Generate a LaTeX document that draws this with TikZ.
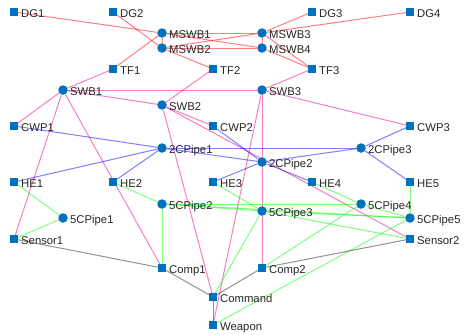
\documentclass[tikz,border=0pt]{standalone}
\usepackage{fontspec}
\setmainfont{Liberation Sans}
\usetikzlibrary{backgrounds}
\definecolor{mblue}{RGB}{0,114,189}
\definecolor{ltxt}{RGB}{38,38,38}
\tikzset{
  lab/.style={anchor=base west, xshift=7bp, yshift=-5.2bp, text=ltxt, inner sep=0pt,
    font=\fontsize{11.3bp}{13bp}\selectfont},
  sq/.style={rectangle, fill=mblue, minimum size=7.5bp, inner sep=0pt},
  ci/.style={circle, fill=mblue, minimum size=9.5bp, inner sep=0pt},
  edge/.style={line width=1bp, opacity=0.5},
  ered/.style={edge, draw=red},
  emag/.style={edge, draw=magenta},
  eblu/.style={edge, draw=blue},
  egrn/.style={edge, draw=green},
  egry/.style={edge, draw={rgb,1:red,0.15;green,0.15;blue,0.15}},
}
\newcommand{\mknode}[4]{\node[#1] (#2) at (#3) {};\node[lab] (#2-l) at (#2.center) {#4};}
\begin{document}
\begin{tikzpicture}[x=1bp,y=-1bp]
\useasboundingbox (0,0) rectangle (476,334);
% nodes
\mknode{sq}{dg1}{14,12}{DG1}
\mknode{sq}{dg2}{113,12}{DG2}
\mknode{sq}{dg3}{312,12}{DG3}
\mknode{sq}{dg4}{410,12}{DG4}
\mknode{ci}{mswb1}{162,33}{MSWB1}
\mknode{ci}{mswb2}{162,48}{MSWB2}
\mknode{ci}{mswb3}{262,33}{MSWB3}
\mknode{ci}{mswb4}{262,48}{MSWB4}
\mknode{sq}{tf1}{113,69}{TF1}
\mknode{sq}{tf2}{213,69}{TF2}
\mknode{sq}{tf3}{312,69}{TF3}
\mknode{ci}{swb1}{63,90}{SWB1}
\mknode{ci}{swb2}{162,105}{SWB2}
\mknode{ci}{swb3}{262,90}{SWB3}
\mknode{sq}{cwp1}{14,126}{CWP1}
\mknode{sq}{cwp2}{213,126}{CWP2}
\mknode{sq}{cwp3}{410,126}{CWP3}
\mknode{ci}{pa1}{162,148}{2CPipe1}
\mknode{ci}{pa2}{262,162}{2CPipe2}
\mknode{ci}{pa3}{361,148}{2CPipe3}
\mknode{sq}{he1}{14,182}{HE1}
\mknode{sq}{he2}{113,182}{HE2}
\mknode{sq}{he3}{213,182}{HE3}
\mknode{sq}{he4}{312,182}{HE4}
\mknode{sq}{he5}{410,182}{HE5}
\mknode{ci}{pb1}{63,218}{5CPipe1}
\mknode{ci}{pb2}{162,204}{5CPipe2}
\mknode{ci}{pb3}{262,211}{5CPipe3}
\mknode{ci}{pb4}{361,204}{5CPipe4}
\mknode{ci}{pb5}{410,218}{5CPipe5}
\mknode{sq}{sen1}{14,239}{Sensor1}
\mknode{sq}{sen2}{410,239}{Sensor2}
\mknode{sq}{comp1}{162,268}{Comp1}
\mknode{sq}{comp2}{262,268}{Comp2}
\mknode{sq}{cmd}{213,297}{Command}
\mknode{sq}{wpn}{213,325}{Weapon}
\begin{scope}[on background layer]
% red
\draw[ered] (dg1) -- (mswb1);
\draw[ered] (dg2) -- (mswb2);
\draw[ered] (dg3) -- (mswb3);
\draw[ered] (dg4) -- (mswb3);
\draw[ered] (mswb1) -- (mswb2);
\draw[ered] (mswb3) -- (mswb4);
\draw[ered] (mswb1) -- (mswb3);
\draw[ered] (mswb1) -- (mswb4);
\draw[ered] (mswb2) -- (mswb3);
\draw[ered] (mswb2) -- (mswb4);
\draw[ered] (mswb1) -- (tf1);
\draw[ered] (mswb2) -- (tf2);
\draw[ered] (mswb3) -- (tf3);
\draw[ered] (mswb4) -- (tf3);
% magenta
\draw[emag] (tf1) -- (swb1);
\draw[emag] (tf2) -- (swb2);
\draw[emag] (tf3) -- (swb3);
\draw[emag] (swb1) -- (swb2);
\draw[emag] (swb1) -- (swb3);
\draw[emag] (swb1) -- (cwp1);
\draw[emag] (swb1) -- (sen1);
\draw[emag] (swb1) -- (comp1);
\draw[emag] (swb2) -- (cwp2);
\draw[emag] (swb2) -- (cmd);
\draw[emag] (swb2) -- (sen2);
\draw[emag] (swb3) -- (cwp3);
\draw[emag] (swb3) -- (comp2);
\draw[emag] (swb3) -- (wpn);
% blue
\draw[eblu] (cwp1) -- (pa1);
\draw[eblu] (he1) -- (pa1);
\draw[eblu] (he2) -- (pa1);
\draw[eblu] (pa1) -- (pa2);
\draw[eblu] (pa1) -- (pa3);
\draw[eblu] (cwp2) -- (pa2);
\draw[eblu] (he3) -- (pa2);
\draw[eblu] (pa2) -- (he4);
\draw[eblu] (pa2) -- (pa3);
\draw[eblu] (cwp3) -- (pa3);
\draw[eblu] (pa3) -- (he5);
% green
\draw[egrn] (he1) -- (pb1);
\draw[egrn] (pb1) -- (sen1);
\draw[egrn] (he2) -- (pb2);
\draw[egrn] (pb2) -- (comp1);
\draw[egrn] (pb2) -- (pb4);
\draw[egrn] (pb2) -- (pb3);
\draw[egrn] (pb2) -- (pb5);
\draw[egrn] (he3) -- (pb3);
\draw[egrn] (pb3) -- (cmd);
\draw[egrn] (pb3) -- (pb5);
\draw[egrn] (pb3) -- (sen2);
\draw[egrn] (he4) -- (pb4);
\draw[egrn] (pb4) -- (pb5);
\draw[egrn] (pb4) -- (comp2);
\draw[egrn] (he5) -- (pb5);
\draw[egrn] (pb5) -- (wpn);
% gray
\draw[egry] (sen1) -- (comp1);
\draw[egry] (comp1) -- (cmd);
\draw[egry] (cmd) -- (wpn);
\draw[egry] (cmd) -- (comp2);
\draw[egry] (comp2) -- (sen2);
\end{scope}
\end{tikzpicture}
\end{document}
